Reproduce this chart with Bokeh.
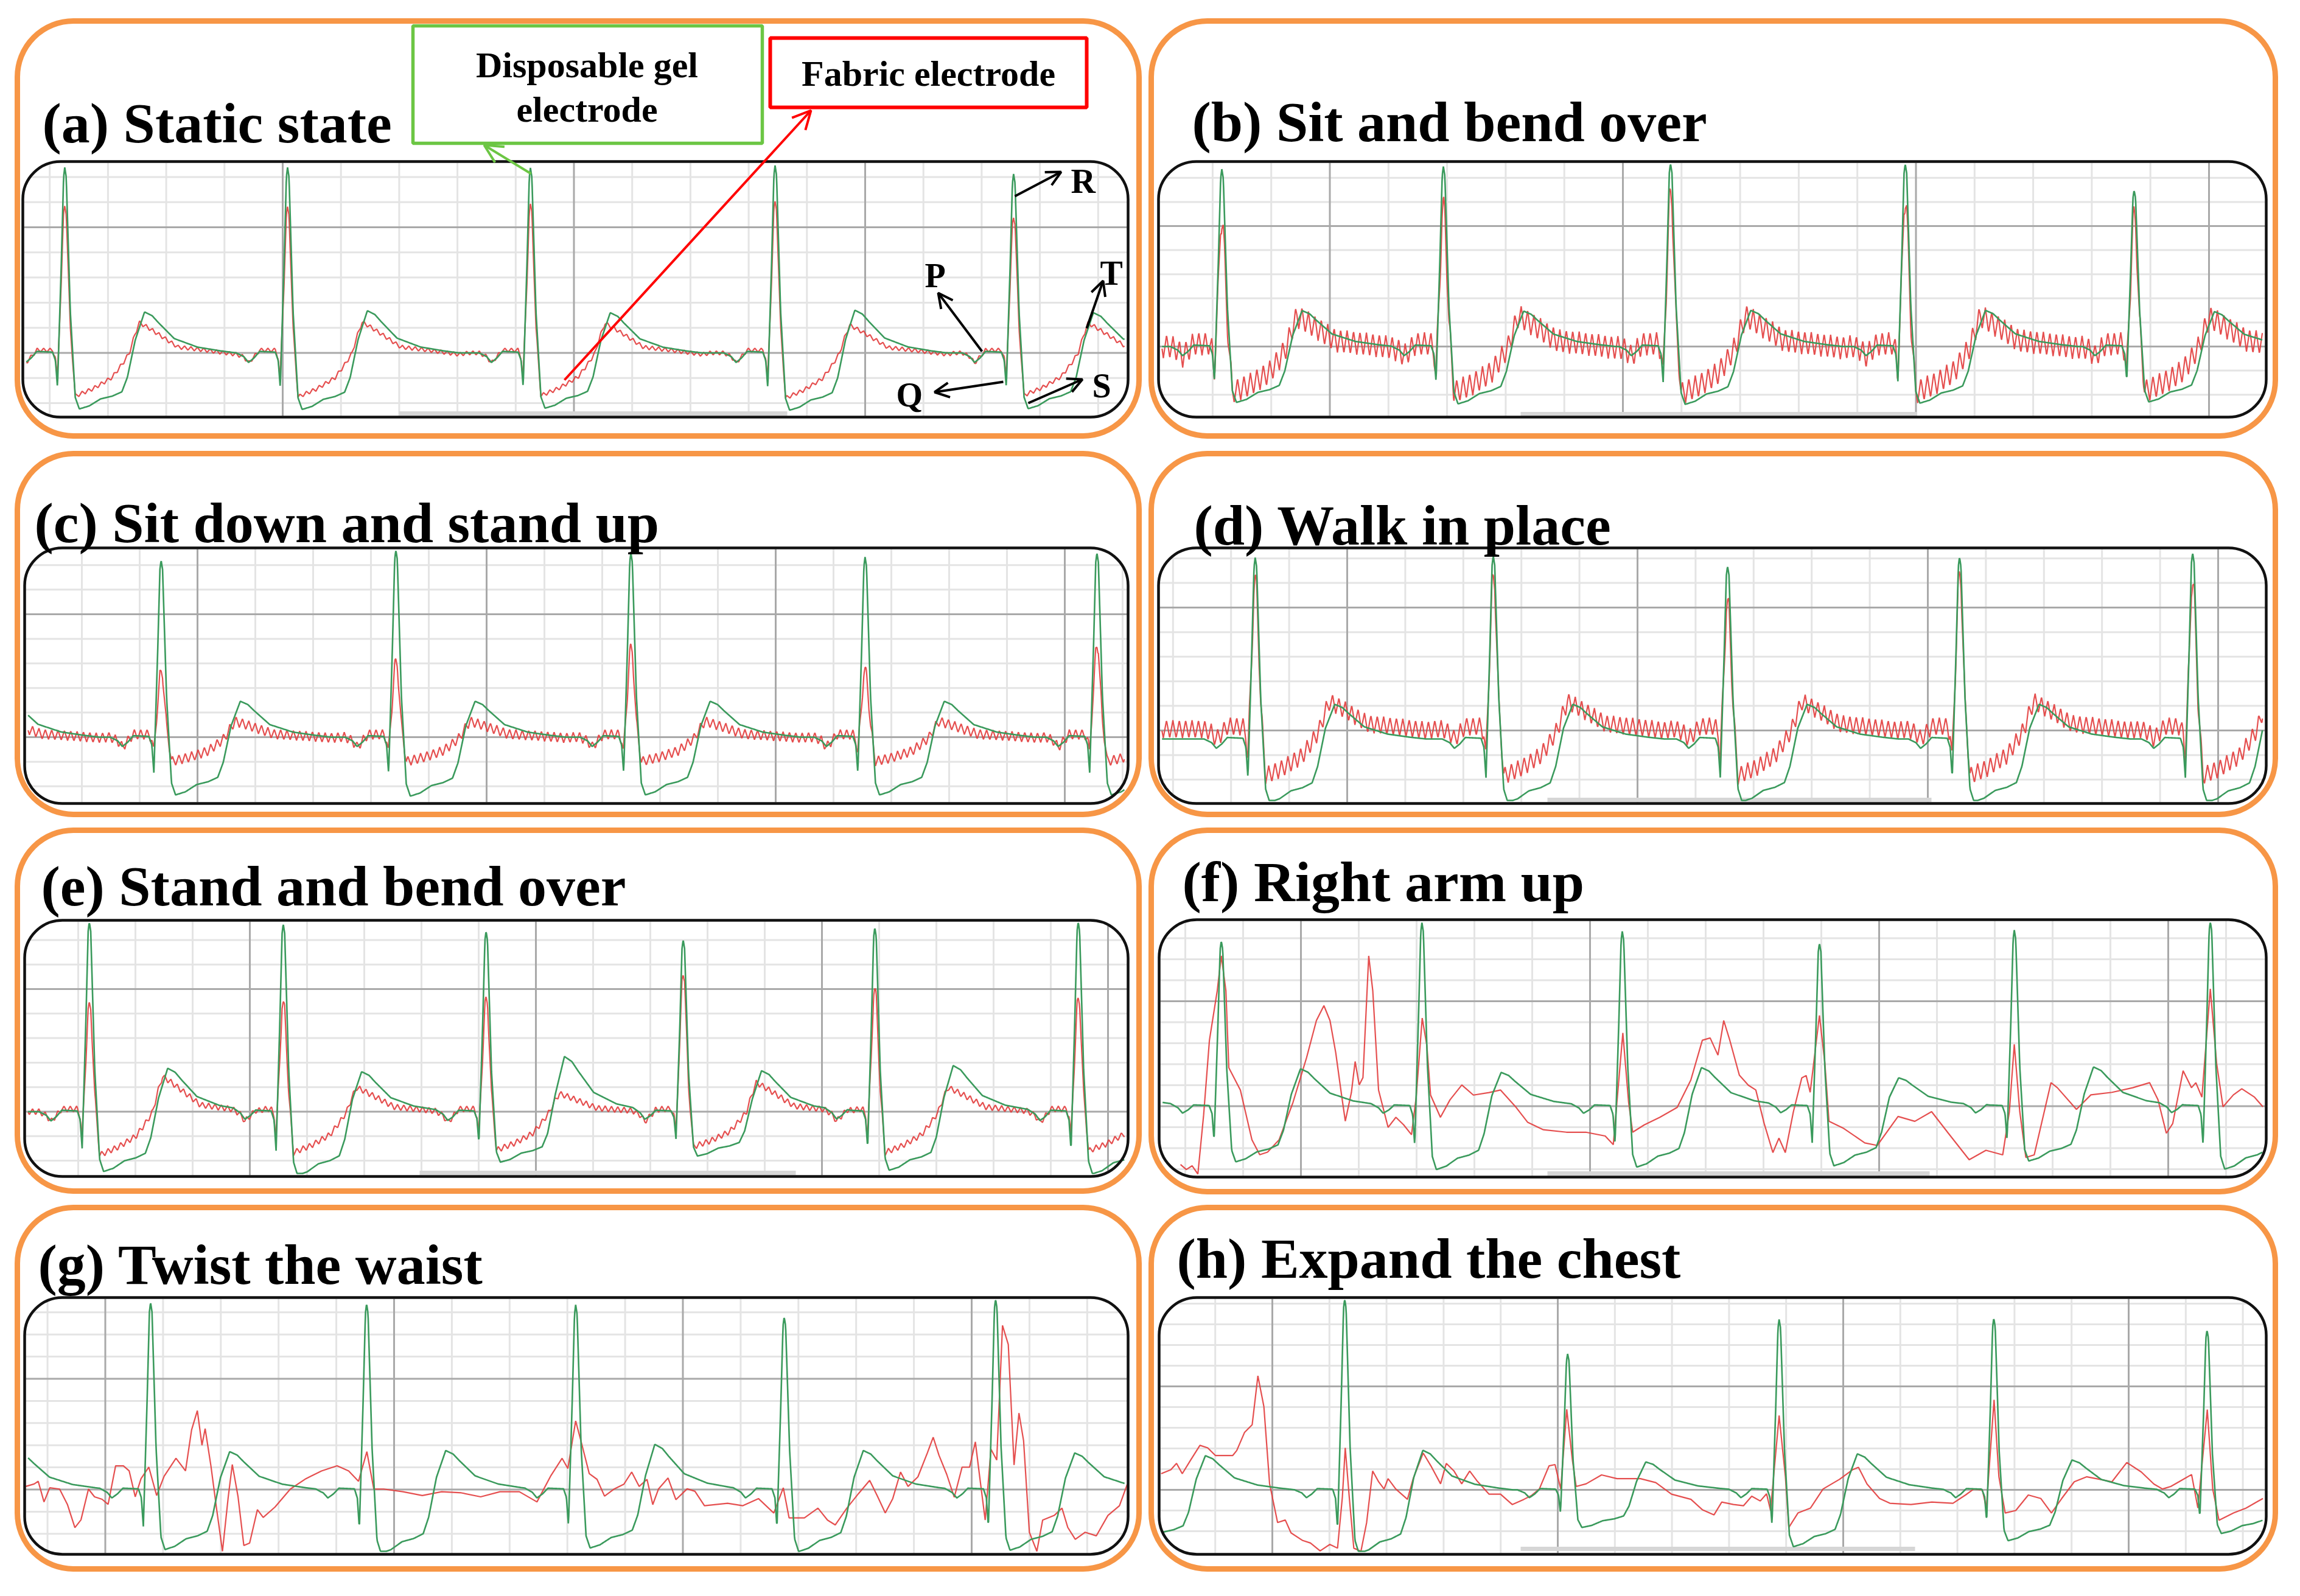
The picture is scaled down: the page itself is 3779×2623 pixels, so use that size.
import numpy as np
from bokeh.plotting import figure
from bokeh.models import Range1d, BoxAnnotation, Label, Arrow, OpenHead
from bokeh.layouts import column, row
from bokeh.embed import file_html
from bokeh.resources import INLINE

# ======================= DATA =======================
# Beat template, disposable gel electrode (time from R peak [s], amplitude [mV])
GEL_TPL_DT = [-0.200, -0.176, -0.150, -0.134, -0.115, -0.096, -0.042, -0.032, -0.025,
              -0.012, -0.004, 0.000, 0.005, 0.019,
              0.036, 0.050, 0.084, 0.123, 0.163, 0.196, 0.215,
              0.242, 0.274, 0.300, 0.322, 0.376, 0.456, 0.535, 0.589, 0.620]
GEL_TPL_MV = [0.000, 0.000, -0.015, -0.038, -0.020, 0.006, 0.003, -0.030, -0.137,
              0.350, 0.700, 0.738, 0.700, 0.165,
              -0.177, -0.223, -0.211, -0.183, -0.172, -0.155, -0.097,
              0.051, 0.163, 0.148, 0.120, 0.057, 0.023, 0.008, 0.000, 0.000]
GEL_TPL_WAVE = "PPPPPPPQQRRRRRSSSSSSSTTTTTTTTT"
GEL_REF = (0.738, -0.223, 0.163)   # R, S, T of the template

# Beat template, fabric electrode
FAB_TPL_DT = [-0.200, -0.176, -0.150, -0.134, -0.115, -0.096, -0.042, -0.032, -0.026,
              -0.012, -0.004, 0.000, 0.005, 0.019,
              0.036, 0.060, 0.096, 0.130, 0.163, 0.200, 0.221,
              0.240, 0.256, 0.280, 0.322, 0.389, 0.482, 0.589, 0.620]
FAB_TPL_MV = [0.000, 0.000, -0.015, -0.040, -0.015, 0.011, 0.011, -0.020, -0.108,
              0.280, 0.560, 0.588, 0.560, 0.100,
              -0.172, -0.160, -0.143, -0.120, -0.097, -0.040, -0.002,
              0.070, 0.120, 0.105, 0.074, 0.023, 0.011, -0.006, 0.000]
FAB_TPL_WAVE = "PPPPPPPQQRRRRRSSSSSSSTTTTTTTT"
FAB_REF = (0.588, -0.172, 0.120)

# mains interference on the fabric electrode
NOISE_PERIOD = 0.022
NOISE_PHASE = [0.0, 0.25, 0.5, 0.75, 1.0]
NOISE_SHAPE = [0.0, 1.0, 0.0, -1.0, 0.0]

# ---- (a) Static state
A_R_TIME = [0.144, 0.909, 1.743, 2.583, 3.402]
A_GEL_R = [0.738, 0.738, 0.736, 0.746, 0.712]
A_GEL_S = [-0.223, -0.225, -0.220, -0.228, -0.222]
A_GEL_T = [0.163, 0.168, 0.160, 0.170, 0.160]
A_FAB_R = [0.586, 0.576, 0.586, 0.600, 0.542]
A_FAB_S = [-0.172, -0.175, -0.170, -0.180, -0.168]
A_FAB_T = [0.120, 0.122, 0.118, 0.110, 0.118]
A_NOISE = 0.008

# ---- (b) Sit and bend over
B_R_TIME = [0.216, 0.972, 1.747, 2.548, 3.329]
B_GEL_R = [0.736, 0.747, 0.760, 0.758, 0.649]
B_GEL_S = [-0.232, -0.238, -0.240, -0.235, -0.230]
B_GEL_T = [0.149, 0.147, 0.150, 0.150, 0.145]
B_FAB_R = [0.523, 0.581, 0.634, 0.606, 0.545]
B_FAB_S = [-0.190, -0.190, -0.195, -0.190, -0.185]
B_FAB_T = [0.125, 0.125, 0.125, 0.125, 0.120]
B_NOISE = 0.048

# ---- (c) Sit down and stand up
C_R_TIME = [-0.330, 0.472, 1.284, 2.097, 2.907, 3.709]
C_GEL_R = [0.750, 0.720, 0.762, 0.750, 0.733, 0.750]
C_GEL_S = [-0.235, -0.235, -0.240, -0.235, -0.235, -0.235]
C_GEL_T = [0.150, 0.146, 0.146, 0.146, 0.146, 0.146]
C_FAB_R = [0.300, 0.267, 0.307, 0.364, 0.272, 0.374]
C_FAB_S = [-0.099, -0.099, -0.099, -0.099, -0.099, -0.099]
C_FAB_T = [0.064, 0.064, 0.064, 0.064, 0.064, 0.064]
C_NOISE = 0.020

# ---- (d) Walk in place
D_R_TIME = [0.333, 1.153, 1.960, 2.759, 3.562]
D_GEL_R = [0.738, 0.745, 0.703, 0.740, 0.757]
D_GEL_S = [-0.257, -0.257, -0.255, -0.255, -0.257]
D_GEL_T = [0.141, 0.141, 0.141, 0.141, 0.141]
D_FAB_R = [0.606, 0.616, 0.514, 0.628, 0.599]
D_FAB_S = [-0.190, -0.190, -0.190, -0.190, -0.190]
D_FAB_T = [0.111, 0.111, 0.111, 0.111, 0.111]
D_FAB_OFFSET = 0.040
D_NOISE = 0.036

# ---- (e) Stand and bend over
E_R_TIME = [0.226, 0.904, 1.613, 2.302, 2.972, 3.683]
E_GEL_R = [0.775, 0.766, 0.736, 0.701, 0.751, 0.775]
E_GEL_S = [-0.244, -0.259, -0.206, -0.181, -0.239, -0.254]
E_GEL_T = [0.177, 0.163, 0.225, 0.167, 0.188, 0.170]
E_FAB_R = [0.437, 0.446, 0.461, 0.565, 0.500, 0.461]
E_FAB_S = [-0.177, -0.167, -0.157, -0.143, -0.167, -0.160]
E_FAB_T = [0.143, 0.098, 0.073, 0.118, 0.098, 0.100]
E_NOISE = 0.012

# ---- (f) Right arm up
F_R_TIME = [-0.475, 0.215, 0.909, 1.602, 2.284, 2.958, 3.636]
F_GEL_R = [0.800, 0.787, 0.875, 0.833, 0.776, 0.839, 0.880]
F_GEL_S = [-0.280, -0.265, -0.302, -0.290, -0.284, -0.261, -0.300]
F_GEL_T = [0.170, 0.178, 0.161, 0.184, 0.135, 0.187, 0.170]
F_FAB = [(0.074, -0.278), (0.094, -0.302), (0.114, -0.284), (0.134, -0.331), (0.154, -0.041),
         (0.174, 0.314), (0.201, 0.550), (0.215, 0.716), (0.231, 0.550), (0.241, 0.183),
         (0.281, 0.077), (0.321, -0.160), (0.348, -0.231), (0.375, -0.219), (0.415, -0.160),
         (0.463, 0.018), (0.510, 0.231), (0.544, 0.408), (0.570, 0.479), (0.591, 0.408),
         (0.611, 0.254), (0.631, 0.053), (0.644, -0.071), (0.665, 0.065), (0.678, 0.213),
         (0.692, 0.101), (0.705, 0.136), (0.725, 0.716), (0.739, 0.550), (0.759, 0.077),
         (0.792, -0.101), (0.819, -0.053), (0.846, -0.089), (0.873, -0.136), (0.889, 0.041),
         (0.910, 0.420), (0.926, 0.290), (0.939, 0.053), (0.973, -0.053), (1.006, 0.030),
         (1.047, 0.101), (1.087, 0.053), (1.141, 0.065), (1.181, 0.077), (1.235, -0.006),
         (1.275, -0.077), (1.329, -0.112), (1.409, -0.124), (1.476, -0.124), (1.543, -0.142),
         (1.571, -0.183), (1.604, 0.349), (1.624, 0.018), (1.638, -0.124), (1.678, -0.089),
         (1.732, -0.053), (1.792, -0.006), (1.839, 0.124), (1.879, 0.314), (1.906, 0.325),
         (1.933, 0.243), (1.953, 0.408), (1.974, 0.314), (2.007, 0.148), (2.038, 0.100),
         (2.064, 0.077), (2.093, -0.083), (2.123, -0.221), (2.144, -0.152), (2.166, -0.221),
         (2.194, -0.026), (2.223, 0.135), (2.238, 0.146), (2.252, 0.066), (2.284, 0.432),
         (2.303, 0.203), (2.317, -0.072), (2.368, -0.106), (2.441, -0.175), (2.484, -0.187),
         (2.556, -0.049), (2.614, -0.072), (2.672, -0.026), (2.730, -0.129), (2.802, -0.255),
         (2.860, -0.210), (2.918, -0.232), (2.941, -0.026), (2.958, 0.295), (2.977, -0.026),
         (2.998, -0.244), (3.027, -0.232), (3.085, 0.112), (3.107, 0.088), (3.173, -0.015),
         (3.223, 0.054), (3.296, 0.066), (3.368, 0.088), (3.426, 0.112), (3.455, 0.031),
         (3.484, -0.129), (3.506, -0.083), (3.542, 0.169), (3.571, 0.088), (3.586, 0.112),
         (3.607, 0.043), (3.636, 0.559), (3.658, 0.203), (3.680, -0.003), (3.716, 0.054),
         (3.745, 0.083), (3.789, 0.043), (3.818, -0.003)]

# ---- (g) Twist the waist
G_R_TIME = [-0.290, 0.436, 1.184, 1.908, 2.630, 3.362]
G_GEL_R = [0.840, 0.845, 0.839, 0.834, 0.779, 0.861]
G_GEL_S = [-0.270, -0.271, -0.287, -0.264, -0.280, -0.274]
G_GEL_T = [0.160, 0.171, 0.176, 0.204, 0.176, 0.165]
G_FAB = [(0.004, 0.014), (0.033, 0.025), (0.047, 0.037), (0.067, -0.056), (0.087, 0.008),
         (0.121, 0.002), (0.148, -0.067), (0.174, -0.172), (0.195, -0.137), (0.221, 0.002),
         (0.242, -0.033), (0.268, -0.044), (0.289, -0.067), (0.315, 0.107), (0.342, 0.107),
         (0.362, 0.084), (0.383, -0.033), (0.403, 0.049), (0.430, 0.101), (0.457, -0.027),
         (0.483, 0.060), (0.524, 0.141), (0.544, 0.107), (0.557, 0.084), (0.578, 0.269),
         (0.598, 0.356), (0.614, 0.200), (0.625, 0.275), (0.645, 0.107), (0.665, -0.091),
         (0.685, -0.288), (0.705, -0.033), (0.719, 0.113), (0.739, -0.033), (0.759, -0.253),
         (0.779, -0.242), (0.806, -0.091), (0.826, -0.126), (0.867, -0.079), (0.920, 0.002),
         (0.974, 0.049), (1.028, 0.084), (1.082, 0.107), (1.122, 0.084), (1.156, 0.037),
         (1.185, 0.171), (1.209, 0.002), (1.243, 0.002), (1.310, -0.010), (1.377, -0.027),
         (1.444, -0.010), (1.512, -0.015), (1.579, -0.033), (1.646, -0.010), (1.713, -0.010),
         (1.774, -0.056), (1.821, 0.060), (1.861, 0.141), (1.881, 0.095), (1.908, 0.310),
         (1.928, 0.211), (1.955, 0.072), (1.982, 0.046), (2.008, -0.030), (2.042, 0.003),
         (2.075, 0.024), (2.102, 0.079), (2.128, 0.014), (2.155, 0.046), (2.175, -0.068),
         (2.195, 0.003), (2.228, 0.052), (2.255, -0.046), (2.294, 0.003), (2.321, -0.008),
         (2.354, -0.073), (2.434, -0.062), (2.487, -0.073), (2.541, -0.041), (2.594, -0.106),
         (2.627, 0.008), (2.647, -0.128), (2.700, -0.128), (2.747, -0.084), (2.780, -0.138),
         (2.807, -0.160), (2.847, -0.084), (2.887, -0.019), (2.926, 0.041), (2.953, -0.030),
         (2.980, -0.106), (3.006, -0.041), (3.033, 0.079), (3.059, 0.014), (3.093, 0.057),
         (3.126, 0.166), (3.146, 0.236), (3.166, 0.155), (3.193, 0.068), (3.219, -0.035),
         (3.246, 0.101), (3.272, 0.101), (3.292, 0.215), (3.306, 0.068), (3.326, -0.138),
         (3.346, 0.182), (3.366, 0.133), (3.386, 0.741), (3.406, 0.655), (3.426, 0.111),
         (3.443, 0.345), (3.459, 0.220), (3.479, -0.193), (3.505, -0.280), (3.525, -0.138),
         (3.565, -0.117), (3.592, -0.084), (3.612, -0.171), (3.638, -0.225), (3.672, -0.193),
         (3.711, -0.209), (3.751, -0.117), (3.791, -0.073), (3.818, 0.024)]

# ---- (h) Expand the chest
H_R_TIME = [-0.112, 0.650, 1.431, 2.172, 2.924, 3.671]
H_GEL_R = [0.800, 0.924, 0.657, 0.824, 0.830, 0.772]
H_GEL_S = [-0.250, -0.307, -0.182, -0.275, -0.246, -0.211]
H_GEL_T = [0.165, 0.191, 0.135, 0.174, 0.144, 0.150]
H_FAB = [(0.007, 0.078), (0.041, 0.097), (0.061, 0.128), (0.081, 0.078), (0.109, 0.141),
         (0.143, 0.215), (0.170, 0.203), (0.197, 0.166), (0.258, 0.166), (0.272, 0.190),
         (0.299, 0.277), (0.326, 0.315), (0.346, 0.551), (0.367, 0.402), (0.387, 0.029),
         (0.415, -0.158), (0.442, -0.146), (0.462, -0.208), (0.503, -0.245), (0.530, -0.257),
         (0.564, -0.295), (0.598, -0.264), (0.625, -0.282), (0.642, -0.034), (0.652, 0.203),
         (0.666, -0.034), (0.682, -0.282), (0.707, -0.301), (0.727, -0.158), (0.748, 0.091),
         (0.768, 0.041), (0.788, 0.004), (0.802, 0.054), (0.829, 0.004), (0.870, -0.046),
         (0.890, 0.054), (0.925, 0.178), (0.952, 0.116), (0.986, 0.029), (1.006, 0.128),
         (1.033, 0.091), (1.060, 0.029), (1.088, 0.091), (1.115, 0.041), (1.156, -0.021),
         (1.196, -0.021), (1.237, -0.071), (1.278, -0.046), (1.305, -0.027), (1.332, 0.004),
         (1.366, 0.116), (1.387, 0.122), (1.407, 0.004), (1.428, 0.389), (1.448, 0.141),
         (1.461, 0.016), (1.496, 0.029), (1.550, 0.072), (1.604, 0.054), (1.686, 0.054),
         (1.740, 0.035), (1.795, -0.021), (1.863, -0.046), (1.903, -0.096), (1.944, -0.121),
         (1.971, -0.059), (2.012, -0.071), (2.047, -0.077), (2.076, -0.031), (2.106, -0.054),
         (2.128, -0.019), (2.142, -0.100), (2.172, 0.359), (2.194, 0.063), (2.206, -0.182),
         (2.238, -0.112), (2.282, -0.088), (2.326, 0.004), (2.384, 0.051), (2.429, 0.097),
         (2.450, 0.109), (2.480, 0.028), (2.524, -0.042), (2.560, -0.065), (2.634, -0.071),
         (2.707, -0.059), (2.781, -0.065), (2.825, -0.025), (2.854, 0.004), (2.884, -0.001),
         (2.898, -0.088), (2.925, 0.435), (2.942, 0.063), (2.964, -0.112), (3.001, -0.100),
         (3.045, -0.025), (3.089, -0.042), (3.126, -0.112), (3.162, -0.042), (3.206, 0.039),
         (3.250, 0.063), (3.294, 0.051), (3.338, 0.039), (3.390, 0.132), (3.441, 0.086),
         (3.485, 0.028), (3.515, 0.004), (3.544, 0.016), (3.573, 0.039), (3.617, 0.074),
         (3.639, -0.088), (3.672, 0.388), (3.691, 0.004), (3.713, -0.147), (3.764, -0.112),
         (3.808, -0.088), (3.845, -0.059), (3.867, -0.042)]

TITLES = ["(a) Static state", "(b) Sit and bend over", "(c) Sit down and stand up",
          "(d) Walk in place", "(e) Stand and bend over", "(f) Right arm up",
          "(g) Twist the waist", "(h) Expand the chest"]

# ======================= LAYOUT / STYLE =======================
GREEN = "#3A9A5C"
RED = "#E23C3C"
ORANGE = "#F79646"
FONT = "Liberation Serif"
COLS = [(8, 1890), (1890, 3771)]
ROWS = [(8, 738), (738, 1356), (1356, 1976), (1976, 2615)]
ORANGE_R = 92
BOX_R = 62
BASELINE_FIX = 0.26   # renderer places alphabetic baseline lower by ~0.26 em

PANELS = [
    dict(col=0, row=0, orange=(36, 42, 1879, 724), box=(45, 273, 1861, 693), pxps=478.5, pxpmv=413.0,
         base=587.5, dark_x=472.0, dark_y=587.5, title_xy=(77, 234), strip=(663, 1301, 687),
         gel=(A_R_TIME, A_GEL_R, A_GEL_S, A_GEL_T), fab=(A_FAB_R, A_FAB_S, A_FAB_T, A_NOISE, 0.0)),
    dict(col=1, row=0, orange=(1899, 42, 3746, 724), box=(1911, 273, 3731, 693), pxps=481.5, pxpmv=396.0,
         base=577.0, dark_x=2192.5, dark_y=577.0, title_xy=(1966, 232), strip=(2506, 3157, 688),
         gel=(B_R_TIME, B_GEL_R, B_GEL_S, B_GEL_T), fab=(B_FAB_R, B_FAB_S, B_FAB_T, B_NOISE, 0.0)),
    dict(col=0, row=1, orange=(36, 753, 1879, 1346), box=(48, 908, 1861, 1328), pxps=475.0, pxpmv=404.0,
         base=1219.0, dark_x=332.0, dark_y=1219.0, title_xy=(64, 891), strip=None,
         gel=(C_R_TIME, C_GEL_R, C_GEL_S, C_GEL_T), fab=(C_FAB_R, C_FAB_S, C_FAB_T, C_NOISE, 0.0)),
    dict(col=1, row=1, orange=(1899, 753, 3746, 1346), box=(1911, 908, 3731, 1328), pxps=477.0, pxpmv=404.0,
         base=1222.0, dark_x=2221.0, dark_y=1208.0, title_xy=(1969, 895), strip=(2550, 3181, 1322),
         gel=(D_R_TIME, D_GEL_R, D_GEL_S, D_GEL_T), fab=(D_FAB_R, D_FAB_S, D_FAB_T, D_NOISE, D_FAB_OFFSET)),
    dict(col=0, row=2, orange=(36, 1372, 1879, 1965), box=(48, 1520, 1861, 1941), pxps=470.0, pxpmv=403.0,
         base=1834.5, dark_x=418.0, dark_y=1834.5, title_xy=(75, 1488), strip=(697, 1315, 1935),
         gel=(E_R_TIME, E_GEL_R, E_GEL_S, E_GEL_T), fab=(E_FAB_R, E_FAB_S, E_FAB_T, E_NOISE, 0.0)),
    dict(col=1, row=2, orange=(1899, 1372, 3746, 1966), box=(1912, 1519, 3731, 1942), pxps=475.0, pxpmv=345.0,
         base=1825.5, dark_x=2145.0, dark_y=1825.5, title_xy=(1950, 1481), strip=(2550, 3178, 1936),
         gel=(F_R_TIME, F_GEL_R, F_GEL_S, F_GEL_T), fab=F_FAB),
    dict(col=0, row=3, orange=(36, 1992, 1879, 2586), box=(48, 2140, 1861, 2562), pxps=474.5, pxpmv=364.0,
         base=2455.5, dark_x=180.5, dark_y=2455.5, title_xy=(70, 2110), strip=None,
         gel=(G_R_TIME, G_GEL_R, G_GEL_S, G_GEL_T), fab=G_FAB),
    dict(col=1, row=3, orange=(1899, 1992, 3746, 2586), box=(1912, 2140, 3731, 2562), pxps=469.0, pxpmv=340.0,
         base=2456.0, dark_x=2098.0, dark_y=2456.0, title_xy=(1941, 2100), strip=(2506, 3154, 2553),
         gel=(H_R_TIME, H_GEL_R, H_GEL_S, H_GEL_T), fab=H_FAB),
]


def beat_sum(t, r_time, r_amp, s_amp, t_amp, tpl_dt, tpl_mv, tpl_wave, ref):
    dt = np.array(tpl_dt)
    mv = np.array(tpl_mv)
    wave = np.array(list(tpl_wave))
    out = np.zeros_like(t)
    for rt, ra, sa, ta in zip(r_time, r_amp, s_amp, t_amp):
        scale = np.where(wave == "R", ra / ref[0],
                 np.where((wave == "S") | (wave == "Q"), sa / ref[1],
                  np.where(wave == "T", ta / ref[2], 1.0)))
        out += np.interp(t - rt, dt, mv * scale, left=0.0, right=0.0)
    return out


def corner_inset(d, r):
    if d >= r:
        return 0.0
    return r - np.sqrt(max(r * r - (r - d) ** 2, 0.0))


def text_label(p, x, y, text, size, align="left"):
    p.add_layout(Label(x=x, y=y - BASELINE_FIX * size, text=text, text_font=FONT,
                       text_font_style="bold", text_font_size=f"{size}px", text_color="black",
                       text_baseline="alphabetic", text_align=align,
                       x_range_name="px", y_range_name="px"))


def make_panel(i, P):
    fx0, fx1 = COLS[P["col"]]
    fy0, fy1 = ROWS[P["row"]]
    bx0, by0, bx1, by1 = P["box"]
    pxps, pxpmv, base = P["pxps"], P["pxpmv"], P["base"]
    p = figure(width=fx1 - fx0, height=fy1 - fy0,
               x_range=Range1d((fx0 - bx0) / pxps, (fx1 - bx0) / pxps),
               y_range=Range1d((base - fy1) / pxpmv, (base - fy0) / pxpmv),
               output_backend="svg", toolbar_location=None, tools="",
               x_axis_location=None, y_axis_location=None, min_border=0,
               outline_line_color=None, background_fill_color="white",
               border_fill_color="white")
    p.grid.visible = False
    p.extra_x_ranges = {"px": Range1d(fx0, fx1)}
    p.extra_y_ranges = {"px": Range1d(fy1, fy0)}
    PX = dict(x_range_name="px", y_range_name="px")

    # ---- ECG paper grid (0.2 s, 0.1 mV; dark every 5)
    gx, gy = pxps * 0.2, pxpmv * 0.1
    segs = {True: ([], [], [], []), False: ([], [], [], [])}
    k = int(np.ceil((bx0 + 4 - P["dark_x"]) / gx))
    while P["dark_x"] + k * gx < bx1 - 4:
        x = P["dark_x"] + k * gx
        ins = corner_inset(min(x - bx0, bx1 - x), BOX_R)
        s = segs[k % 5 == 0]
        s[0].append(x); s[1].append(by0 + ins + 2); s[2].append(x); s[3].append(by1 - ins - 2)
        k += 1
    k = int(np.ceil((by0 + 4 - P["dark_y"]) / gy))
    while P["dark_y"] + k * gy < by1 - 4:
        y = P["dark_y"] + k * gy
        ins = corner_inset(min(y - by0, by1 - y), BOX_R)
        s = segs[k % 5 == 0]
        s[0].append(bx0 + ins + 2); s[1].append(y); s[2].append(bx1 - ins - 2); s[3].append(y)
        k += 1
    for dark in (False, True):
        x0, y0, x1, y1 = segs[dark]
        p.segment(x0=x0, y0=y0, x1=x1, y1=y1, line_color="#A9A9A9" if dark else "#E4E4E4",
                  line_width=3, **PX)

    if P["strip"] is not None:
        sx0, sx1, sy = P["strip"]
        p.segment(x0=[sx0], y0=[sy], x1=[sx1], y1=[sy], line_color="#D6D6D6", line_width=7, **PX)

    # ---- traces
    v_top = (base - by0 - 5) / pxpmv
    v_bot = (base - by1 + 5) / pxpmv
    t = np.arange(0.012, (bx1 - bx0) / pxps - 0.012, 0.0015)
    gel = beat_sum(t, *P["gel"], GEL_TPL_DT, GEL_TPL_MV, GEL_TPL_WAVE, GEL_REF)
    if isinstance(P["fab"], tuple):
        fr, fs, ft, namp, off = P["fab"]
        fab = beat_sum(t, P["gel"][0], fr, fs, ft, FAB_TPL_DT, FAB_TPL_MV, FAB_TPL_WAVE, FAB_REF)
        fab = fab + off + namp * np.interp((t / NOISE_PERIOD) % 1.0, NOISE_PHASE, NOISE_SHAPE)
        ft_x = t
    else:
        ft_x = np.array([q[0] for q in P["fab"]])
        fab = np.array([q[1] for q in P["fab"]])
    p.line(ft_x, np.clip(fab, v_bot, v_top), line_color=RED, line_width=2.2, line_alpha=0.9)
    p.line(t, np.clip(gel, v_bot, v_top), line_color=GREEN, line_width=2.6)

    # ---- frames
    ox0, oy0, ox1, oy1 = P["orange"]
    p.add_layout(BoxAnnotation(left=ox0, right=ox1, top=oy0, bottom=oy1, fill_alpha=0,
                               line_color=ORANGE, line_alpha=1.0, line_width=9,
                               border_radius=ORANGE_R, **PX))
    p.add_layout(BoxAnnotation(left=bx0, right=bx1, top=by0, bottom=by1, fill_alpha=0,
                               line_color="#111111", line_alpha=1.0, line_width=4.5,
                               border_radius=BOX_R, **PX))
    tx, ty = P["title_xy"]
    text_label(p, tx, ty, TITLES[i], 94)
    return p


figs = [make_panel(i, P) for i, P in enumerate(PANELS)]

# ---- callouts on panel (a)
pa = figs[0]
PX = dict(x_range_name="px", y_range_name="px")
pa.add_layout(BoxAnnotation(left=686, right=1260, top=50, bottom=243, fill_color="white", fill_alpha=1.0,
                            line_color="#6CC644", line_alpha=1.0, line_width=5.5, **PX))
pa.add_layout(BoxAnnotation(left=1273, right=1793, top=70, bottom=184, fill_color="white", fill_alpha=1.0,
                            line_color="#FF0000", line_alpha=1.0, line_width=6, **PX))
for txt, x, y in [("Disposable gel", 972, 130), ("electrode", 972, 203), ("Fabric electrode", 1533, 144)]:
    text_label(pa, x, y, txt, 60, align="center")
pa.add_layout(Arrow(x_start=880, y_start=293, x_end=803, y_end=246, line_color="#6CC644", line_width=4,
                    end=OpenHead(size=30, line_width=4, line_color="#6CC644"), **PX))
pa.add_layout(Arrow(x_start=935, y_start=632, x_end=1340, y_end=189, line_color="#FF0000", line_width=4,
                    end=OpenHead(size=30, line_width=4, line_color="#FF0000"), **PX))
WAVE_LABELS = [("R", 1767, 320, 1675, 330, 1751, 290),
               ("P", 1527, 475, 1621, 585, 1549, 489),
               ("Q", 1480, 671, 1656, 635, 1543, 652),
               ("S", 1802, 656, 1697, 670, 1786, 631),
               ("T", 1815, 471, 1793, 547, 1820, 469)]
for txt, lx, ly, xs, ys, xe, ye in WAVE_LABELS:
    pa.add_layout(Arrow(x_start=xs, y_start=ys, x_end=xe, y_end=ye, line_color="black", line_width=4,
                        end=OpenHead(size=24, line_width=4, line_color="black"), **PX))
    text_label(pa, lx, ly, txt, 56)

layout = column(row(figs[0], figs[1]), row(figs[2], figs[3]),
                row(figs[4], figs[5]), row(figs[6], figs[7]))
open("out.html", "w").write(file_html(layout, INLINE, title="ECG under motion"))
